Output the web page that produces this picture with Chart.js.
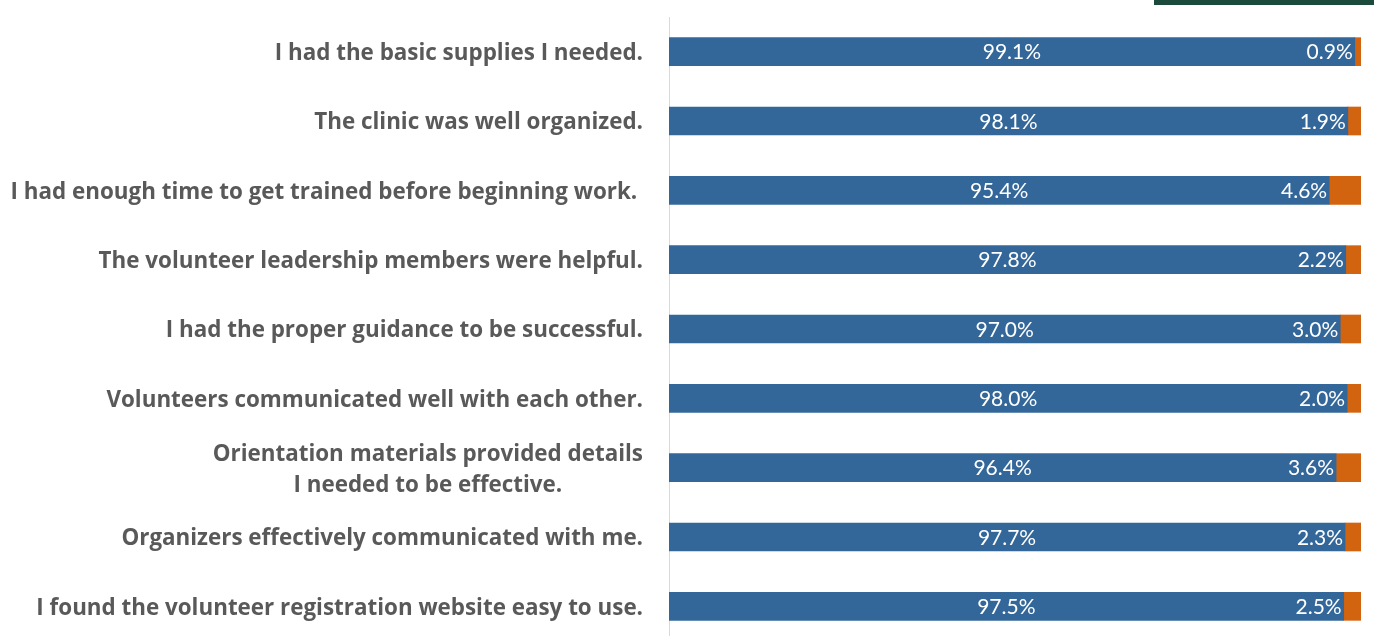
<!DOCTYPE html>
<html>
<head>
<meta charset="utf-8">
<script src="https://cdn.jsdelivr.net/npm/chart.js@4.4.1/dist/chart.umd.min.js"></script>
<style>
  html, body { margin: 0; padding: 0; background: #fff; overflow: hidden; }
  #wrap { position: relative; width: 1374px; height: 642px; }
  .band { position: absolute; left: 1154px; top: 0; width: 220px; height: 5px; background: #1b4a3c; }
</style>
</head>
<body>
<div id="wrap">
  <canvas id="chart" width="1374" height="642"></canvas>
  <div class="band"></div>
</div>
<script>
// survey statements, top to bottom
const statements = [
  "I had the basic supplies I needed.",
  "The clinic was well organized.",
  "I had enough time to get trained before beginning work. ",
  "The volunteer leadership members were helpful.",
  "I had the proper guidance to be successful.",
  "Volunteers communicated well with each other.",
  ["Orientation materials provided details", "I needed to be effective."],
  "Organizers effectively communicated with me.",
  "I found the volunteer registration website easy to use."
];
// share of answers, in percent
const agreeShare = [99.1, 98.1, 95.4, 97.8, 97.0, 98.0, 96.4, 97.7, 97.5];
const disagreeShare = [0.9, 1.9, 4.6, 2.2, 3.0, 2.0, 3.6, 2.3, 2.5];

const BLUE = "#33679a";
const ORANGE = "#d2630f";

function fmt(v) {
  return v.toFixed(1) + "%";
}

// statement text on the left, right-aligned, multi-line blocks centred on themselves
const statementLabels = {
  id: "statementLabels",
  afterDraw(chart) {
    const { ctx } = chart;
    const y = chart.scales.y;
    ctx.save();
    ctx.font = "bold 22.4px 'Open Sans'";
    ctx.fillStyle = "#595959";
    ctx.textBaseline = "middle";
    ctx.textAlign = "center";
    const right = y.right - 26;
    const lineH = 31;
    chart.data.labels.forEach((lab, i) => {
      const lines = Array.isArray(lab) ? lab : [lab];
      const w = Math.max(...lines.map(l => ctx.measureText(l).width));
      const cx = right - w / 2;
      const cy = y.getPixelForTick(i) + 2;
      lines.forEach((l, j) => {
        ctx.fillText(l, cx, cy + (j - (lines.length - 1) / 2) * lineH);
      });
    });
    ctx.restore();
  }
};

// percentages written inside the blue bar
const valueLabels = {
  id: "valueLabels",
  afterDatasetsDraw(chart) {
    const { ctx } = chart;
    ctx.save();
    ctx.font = "21px Lato";
    ctx.fillStyle = "#ffffff";
    ctx.textBaseline = "middle";

    ctx.textAlign = "center";
    chart.getDatasetMeta(0).data.forEach((bar, i) => {
      ctx.fillText(fmt(agreeShare[i]), (bar.x + bar.base) / 2, bar.y + 1);
    });

    ctx.textAlign = "right";
    chart.getDatasetMeta(1).data.forEach((bar, i) => {
      ctx.fillText(fmt(disagreeShare[i]), bar.base - 2, bar.y + 1);
    });
    ctx.restore();
  }
};

new Chart(document.getElementById("chart"), {
  type: "bar",
  data: {
    labels: statements,
    datasets: [
      { data: agreeShare, backgroundColor: BLUE, barThickness: 28 },
      { data: disagreeShare, backgroundColor: ORANGE, barThickness: 28 }
    ]
  },
  options: {
    indexAxis: "y",
    responsive: false,
    animation: false,
    layout: { padding: { top: 17, right: 13, bottom: 1, left: 0 } },
    plugins: {
      legend: { display: false },
      tooltip: { enabled: false }
    },
    scales: {
      x: { stacked: true, min: 0, max: 100, display: false },
      y: {
        stacked: true,
        grid: { display: false },
        border: { display: true, color: "#d9d9d9", width: 1 },
        ticks: { display: false },
        afterFit(scale) { scale.width = 669; }
      }
    }
  },
  plugins: [statementLabels, valueLabels]
});
</script>
</body>
</html>
